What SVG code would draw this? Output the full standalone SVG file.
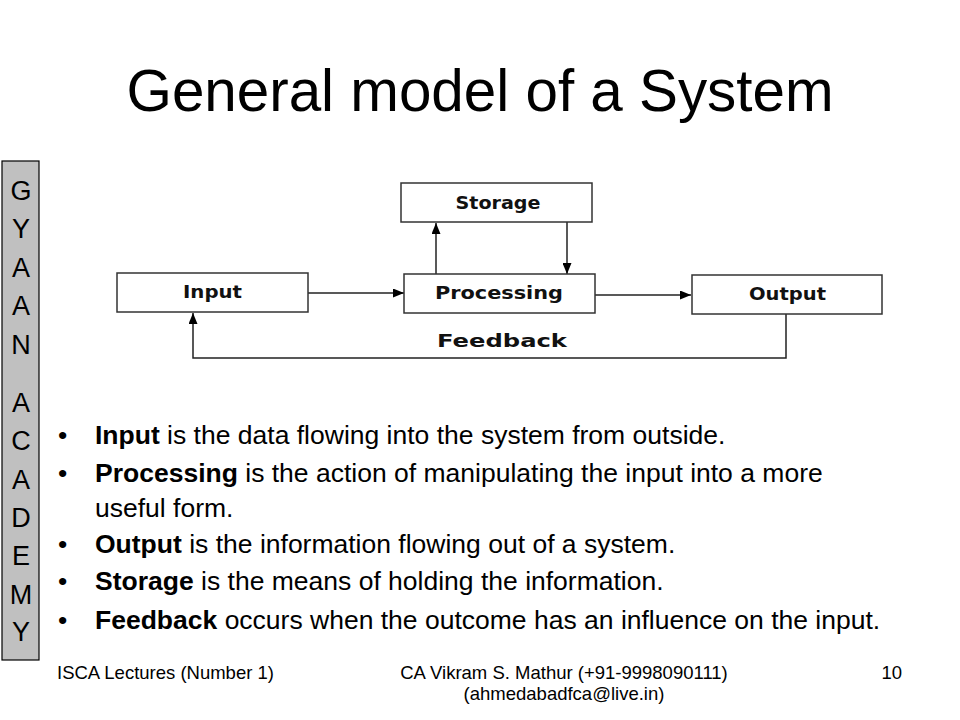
<svg xmlns="http://www.w3.org/2000/svg" width="960" height="720" viewBox="0 0 960 720">
<defs>
<marker id="ah" markerWidth="11" markerHeight="9" refX="11" refY="4.5" orient="auto" markerUnits="userSpaceOnUse">
<path d="M0,0 L11,4.5 L0,9 Z" fill="#000"/>
</marker>
<style>
.box{fill:#fff;stroke:#333;stroke-width:1.5}
.lbl{font-family:"DejaVu Sans","Liberation Sans",sans-serif;font-weight:bold;font-size:17px;fill:#111}
.con{fill:none;stroke:#222;stroke-width:1.5}
.side{font-family:"Liberation Sans",Arial,sans-serif;font-size:27px;fill:#000}
.bul{font-family:"Liberation Sans",Arial,sans-serif;font-size:26.5px;fill:#000}
.ft{font-family:"Liberation Sans",Arial,sans-serif;font-size:18.5px;fill:#000}
</style>
</defs>
<rect width="960" height="720" fill="#fff"/>
<text x="480" y="111" text-anchor="middle" font-family="Liberation Sans, Arial, sans-serif" font-size="59" fill="#000" textLength="707" lengthAdjust="spacingAndGlyphs">General model of a System</text>

<g id="sidebar">
<rect x="2" y="161" width="37" height="499" fill="#c0c0c0" stroke="#000" stroke-width="1.2"/>
<g class="side" text-anchor="middle">
<text x="21" y="200">G</text>
<text x="21" y="238">Y</text>
<text x="21" y="277">A</text>
<text x="21" y="315">A</text>
<text x="21" y="354">N</text>
<text x="21" y="412">A</text>
<text x="21" y="450">C</text>
<text x="21" y="489">A</text>
<text x="21" y="527">D</text>
<text x="21" y="565">E</text>
<text x="21" y="604">M</text>
<text x="21" y="641">Y</text>
</g>
</g>

<g id="connectors">
<line class="con" x1="308" y1="293" x2="404" y2="293" marker-end="url(#ah)"/>
<line class="con" x1="595" y1="295" x2="691" y2="295" marker-end="url(#ah)"/>
<line class="con" x1="436" y1="274" x2="436" y2="223" marker-end="url(#ah)"/>
<line class="con" x1="567" y1="222" x2="567" y2="274" marker-end="url(#ah)"/>
<polyline class="con" points="786,314 786,358 193,358 193,313" marker-end="url(#ah)"/>
<text class="lbl" x="502" y="347" text-anchor="middle" font-size="19" textLength="130" lengthAdjust="spacingAndGlyphs">Feedback</text>
</g>

<g id="storage">
<rect class="box" x="401" y="183" width="191" height="39"/>
<text class="lbl" x="498" y="209" text-anchor="middle" textLength="85" lengthAdjust="spacingAndGlyphs">Storage</text>
</g>
<g id="input">
<rect class="box" x="117" y="273" width="191" height="39"/>
<text class="lbl" x="212.5" y="298" text-anchor="middle" textLength="59" lengthAdjust="spacingAndGlyphs">Input</text>
</g>
<g id="processing">
<rect class="box" x="404" y="274" width="191" height="39"/>
<text class="lbl" x="499" y="299" text-anchor="middle" textLength="128" lengthAdjust="spacingAndGlyphs">Processing</text>
</g>
<g id="output">
<rect class="box" x="692" y="275" width="190" height="39"/>
<text class="lbl" x="787.5" y="300" text-anchor="middle" textLength="77" lengthAdjust="spacingAndGlyphs">Output</text>
</g>

<g id="bullets" class="bul">
<text x="58" y="444">•</text>
<text x="95" y="444"><tspan font-weight="bold">Input</tspan> is the data flowing into the system from outside.</text>
<text x="58" y="482">•</text>
<text x="95" y="482"><tspan font-weight="bold">Processing</tspan> is the action of manipulating the input into a more</text>
<text x="95" y="517">useful form.</text>
<text x="58" y="553">•</text>
<text x="95" y="553"><tspan font-weight="bold">Output</tspan> is the information flowing out of a system.</text>
<text x="58" y="590">•</text>
<text x="95" y="590"><tspan font-weight="bold">Storage</tspan> is the means of holding the information.</text>
<text x="58" y="629">•</text>
<text x="95" y="629"><tspan font-weight="bold">Feedback</tspan> occurs when the outcome has an influence on the input.</text>
</g>

<g id="footer" class="ft">
<text x="57" y="679">ISCA Lectures (Number 1)</text>
<text x="564" y="679" text-anchor="middle">CA Vikram S. Mathur (+91-9998090111)</text>
<text x="564" y="700" text-anchor="middle">(ahmedabadfca@live.in)</text>
<text x="902" y="679" text-anchor="end">10</text>
</g>
</svg>
